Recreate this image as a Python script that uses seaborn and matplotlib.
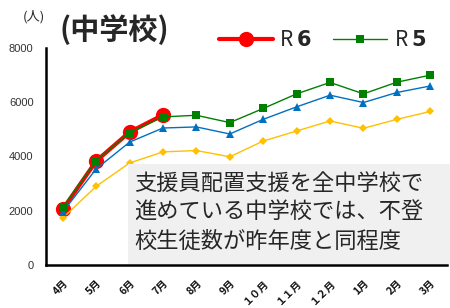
import matplotlib

matplotlib.use("Agg")
import matplotlib.pyplot as plt
import numpy as np
import pandas as pd
import seaborn as sns
from matplotlib.lines import Line2D
from matplotlib.patches import Rectangle

months = ["4月", "5月", "6月", "7月", "8月", "9月", "１０月", "１１月", "１２月", "1月", "2月", "3月"]
r6 = [2050, 3830, 4900, 5530, np.nan, np.nan, np.nan, np.nan, np.nan, np.nan, np.nan, np.nan]
r5 = [2130, 3850, 4880, 5460, 5520, 5250, 5770, 6310, 6730, 6310, 6740, 7000]
r4 = [1950, 3540, 4530, 5050, 5090, 4830, 5370, 5830, 6260, 5990, 6360, 6600]
r3 = [1730, 2900, 3760, 4170, 4220, 3990, 4570, 4940, 5310, 5040, 5370, 5660]
note_lines = ["支援員配置支援を全中学校で", "進めている中学校では、不登", "校生徒数が昨年度と同程度"]

FONTS = ["Noto Sans CJK JP", "DejaVu Sans"]

sns.set_theme(style="white")
plt.rcParams["font.family"] = FONTS

df = pd.DataFrame({"pos": np.arange(len(months)), "R6": r6, "R5": r5, "R4": r4, "R3": r3})

fig = plt.figure(figsize=(4.5, 3.08), dpi=100)
ax = fig.add_axes([46 / 450, 1 - 265 / 308, 401 / 450, 217 / 308])

styles = [
    ("R6", "#FF0000", "o", 11, 3.0, 2),
    ("R3", "#FFC000", "D", 4, 1.0, 3),
    ("R4", "#0070C0", "^", 6, 1.0, 4),
    ("R5", "#008000", "s", 6, 1.0, 5),
]
for col, color, marker, ms, lw, z in styles:
    sns.lineplot(
        data=df, x="pos", y=col, ax=ax, color=color, marker=marker,
        markersize=ms, linewidth=lw, markeredgewidth=0, markeredgecolor=color,
        zorder=z, legend=False,
    )

ax.set_xlim(-0.5, 11.5)
ax.set_ylim(0, 8000)
ax.set_yticks([0, 2000, 4000, 6000, 8000])
ax.set_yticklabels(["0", "2000", "4000", "6000", "8000"], fontsize=8, color="#333333",
                   family=["Liberation Sans"])
ax.set_xticks(np.arange(len(months)))
ax.set_xticklabels(months, rotation=45, ha="right", rotation_mode="anchor", fontsize=7.5,
                   fontweight="bold", color="#111111")
ax.set_xticks(np.arange(len(months) - 1) + 0.5, minor=True)
ax.tick_params(axis="x", which="major", length=0, pad=9)
ax.tick_params(axis="x", which="minor", direction="in", length=3, width=1.2, color="black")
ax.tick_params(axis="y", length=0, pad=9)
ax.set_xlabel("")
ax.set_ylabel("")
for side in ["top", "right"]:
    ax.spines[side].set_visible(False)
for side in ["left", "bottom"]:
    ax.spines[side].set_color("black")
    ax.spines[side].set_linewidth(1.8)

# note box
fig.patches.append(Rectangle((128 / 450, 1 - 264 / 308), 322 / 450, 100 / 308,
                             transform=fig.transFigure, facecolor="#f0f0f0",
                             edgecolor="none", zorder=10))
for i, line in enumerate(note_lines):
    fig.text(134 / 450, 1 - (183 + 29 * i) / 308, line, fontsize=16, color="#262626",
             va="center", ha="left", zorder=11)

fig.text(23 / 450, 1 - 17 / 308, "(人)", fontsize=9.5, va="center", ha="left")
fig.text(60 / 450, 1 - 30 / 308, "(中学校)", fontsize=21, fontweight="bold",
         va="center", ha="left")

handles = [
    Line2D([], [], color="#FF0000", marker="o", markersize=11, linewidth=3, markeredgewidth=0),
    Line2D([], [], color="#008000", marker="s", markersize=6, linewidth=1, markeredgewidth=0),
]
fig.legend(handles, ["R $\\mathbf{6}$", "R $\\mathbf{5}$"], loc="center left",
           bbox_to_anchor=(200 / 450, 1 - 40 / 308), ncol=2, frameon=False,
           fontsize=15, handlelength=2.6, handletextpad=0.3, columnspacing=1.0)

fig.savefig("out.png", dpi=100)
